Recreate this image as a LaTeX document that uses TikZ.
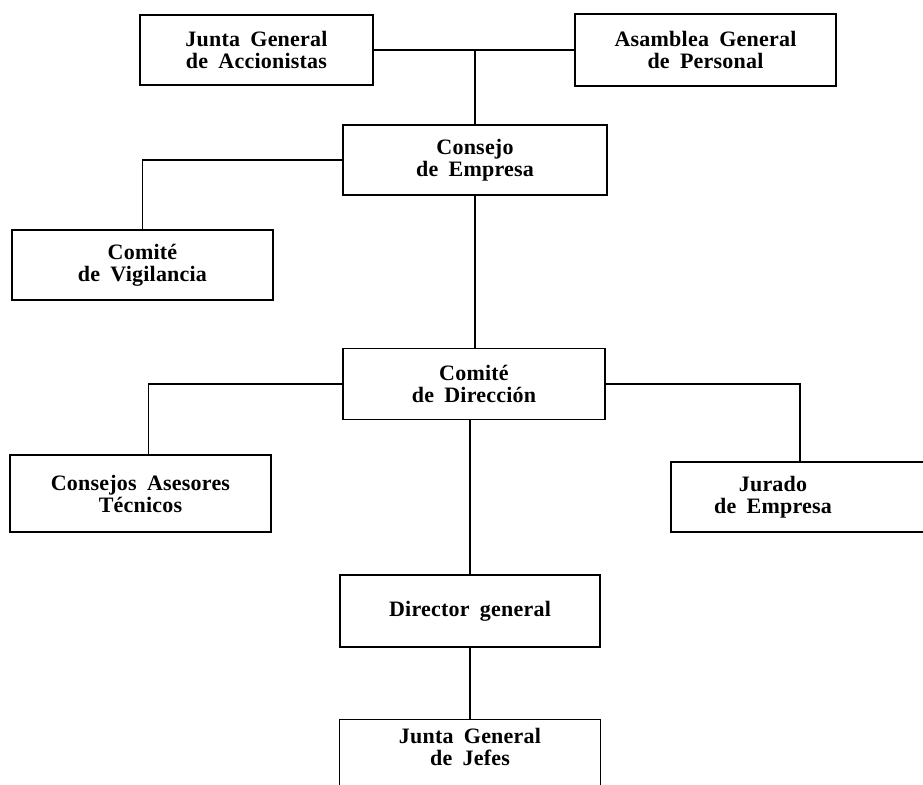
\documentclass[tikz,border=0pt]{standalone}
\usepackage{fontspec}
\setmainfont{Liberation Serif}
\newfontfamily\boxfont[LetterSpace=1.0,WordSpace=1.8]{Liberation Serif}
\begin{document}
\begin{tikzpicture}[x=0.5pt,y=-0.5pt,
  bx/.style={draw, line width=0.7pt, inner sep=0pt, align=center,
    font=\boxfont\bfseries\fontsize{11pt}{11pt}\selectfont},
  tx/.style={inner sep=0pt, align=center,
    font=\boxfont\bfseries\fontsize{11pt}{11pt}\selectfont},
  ln/.style={line width=0.9pt}]
\useasboundingbox (0,0) rectangle (923,785);
\clip (0,0) rectangle (923,785);
\fill[white] (0,0) rectangle (923,785);

\node[bx, minimum width=116.5pt, minimum height=35pt] (jga) at (256.5,50) {Junta General\\de Accionistas};
\node[bx, minimum width=130.5pt, minimum height=36pt] (aga) at (705.5,50) {Asamblea General\\de Personal};
\node[bx, minimum width=132pt, minimum height=35pt] (ce) at (475,160) {Consejo\\de Empresa};
\node[bx, minimum width=130.5pt, minimum height=35pt] (cv) at (142.5,265) {Comit\'e\\de Vigilancia};
\node[bx, minimum width=131pt, minimum height=35.5pt] (cd) at (474,384) {Comit\'e\\de Direcci\'on};
\node[bx, minimum width=130.5pt, minimum height=38.5pt] (cat) at (140.5,493.5) {Consejos Asesores\\T\'ecnicos};
\node[bx, minimum width=129pt, minimum height=35pt] (jur) at (800,497) {};
\node[tx] (jurt) at (773,497) {Jurado\\de Empresa};
\node[bx, minimum width=130pt, minimum height=36pt] (dg) at (470,611) {Director general};
\node[tx, minimum width=130pt, minimum height=27pt] (jgj) at (470,747) {Junta General\\de Jefes};
\draw[line width=0.7pt] ([yshift=-12pt]jgj.south west) -- (jgj.north west) -- (jgj.north east) -- ([yshift=-12pt]jgj.south east);

\coordinate (j1) at (ce.north |- jga.east);
\draw[ln] (jga.east) -- (aga.west);
\draw[ln] (j1) -- (ce.north);
\draw[ln] (ce.west) -| (cv.north);
\draw[ln] (ce.south) -- (ce.south |- cd.north);
\draw[ln] (cd.west) -| ([xshift=4pt]cat.north);
\draw[ln] (cd.east) -| (jur.north);
\draw[ln] (cd.south -| dg.north) -- (dg.north);
\draw[ln] (dg.south) -- (jgj.north);
\end{tikzpicture}
\end{document}
